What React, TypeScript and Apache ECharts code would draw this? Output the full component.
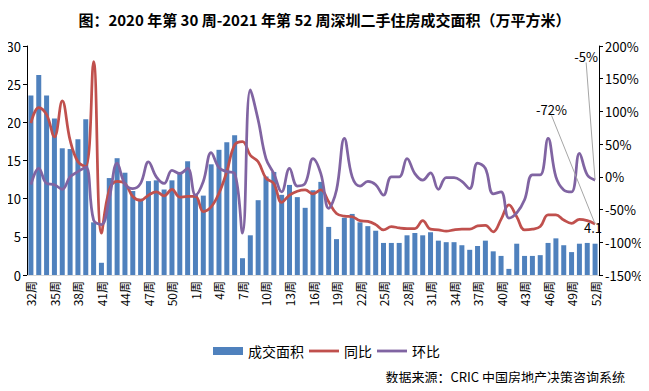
import React, { useEffect, useRef } from "react";
import * as echarts from "echarts";

const weeks2020 = [32, 33, 34, 35, 36, 37, 38, 39, 40, 41, 42, 43, 44, 45, 46, 47, 48, 49, 50, 51, 52];
const weeks2021 = Array.from({ length: 52 }, (_, k) => k + 1);
const categories = [...weeks2020, ...weeks2021].map((w) => `${w}周`);

const area = [
  23.5, 26.2, 23.5, 20.5, 16.6, 16.5, 17.8, 20.4, 6.9, 1.6,
  12.7, 15.3, 13.4, 11.0, 10.0, 12.3, 12.4, 11.2, 12.4, 13.5,
  14.9, 10.5, 10.4, 14.5, 16.4, 17.4, 18.3, 2.2, 5.2, 9.8,
  12.9, 13.5, 10.5, 11.8, 10.2, 8.8, 11.1, 12.2, 6.3, 4.7,
  7.5, 8.0, 6.9, 6.4, 5.8, 4.2, 4.2, 4.2, 5.2, 5.5,
  5.2, 5.6, 4.5, 4.3, 4.3, 3.9, 3.3, 3.8, 4.5, 3.1,
  2.5, 0.8, 4.1, 2.5, 2.5, 2.6, 4.2, 4.8, 3.9, 3.0,
  4.1, 4.2, 4.1,
];

const yoy = [
  82, 106, 95, 61, 116, 56, 23, 16, 176, -86,
  -20, -7, -10, -30, -36, -28, -23, -29, -19, -31,
  -30, -30, -53, -46, -25, 8, 49, 54, 33, 23,
  -2, -10, -39, -28, -22, -20, -26, -20, -38, -56,
  -60, -61, -67, -68, -73, -81, -76, -78, -79, -79,
  -67, -80, -81, -83, -81, -80, -80, -75, -74, -84,
  -65, -43, -61, -81, -80, -76, -58, -58, -66, -71,
  -65, -67, -72,
];

const mom = [
  -12, 13, -10, -12, -19, 0, 8, 15, -66, -73,
  -33, 21, -11, -18, -10, 23, 0, -10, 10, 5,
  13, -28, -7, 37, 14, 8, 5, -86, 133, 87,
  28, 5, -23, 13, -14, -10, 28, 5, -48, -20,
  59, 0, -14, -7, -12, -28, 0, 0, 28, 5,
  -5, 6, -19, -1, -1, -7, -18, 21, 13, -26,
  -23, -63, -55, -35, 3, 3, 59, 0, -20, -23,
  36, 3, -5,
];

const title = "图：2020 年第 30 周-2021 年第 52 周深圳二手住房成交面积（万平方米）";
const source = "数据来源：CRIC 中国房地产决策咨询系统";

const FONT = "'Noto Sans CJK SC', 'Noto Sans', sans-serif";
const LINE_ICON = "path://M0,0L32,0L32,3L0,3Z";

export default function App() {
  const ref = useRef<HTMLDivElement>(null);
  useEffect(() => {
    if (!ref.current) return;
    const chart = echarts.init(ref.current, null, { renderer: "svg" });
    const last = categories.length - 1;
    const labelSeries = (name: string, v: number, lx: number, ly: number) => ({
      name,
      type: "scatter",
      yAxisIndex: 1,
      symbol: "circle",
      symbolSize: 1,
      itemStyle: { color: "rgba(0,0,0,0)" },
      silent: true,
      z: 5,
      data: [[categories[last], v]],
      label: {
        show: true,
        formatter: `${v}%`,
        fontSize: 13,
        color: "#000",
        opacity: 1,
        textBorderWidth: 0,
      },
      labelLine: { show: true, lineStyle: { color: "#a6a6a6", width: 1 } },
      labelLayout: { x: lx, y: ly, align: "right", verticalAlign: "middle" },
    });
    chart.setOption({
      animation: false,
      textStyle: { fontFamily: FONT },
      title: {
        text: title,
        left: "center",
        top: 7,
        textStyle: { fontSize: 15, fontWeight: "bold", color: "#000", fontFamily: FONT },
      },
      legend: {
        left: 208,
        top: 339,
        itemWidth: 30,
        itemHeight: 8,
        itemGap: 5,
        textStyle: { fontSize: 14, color: "#000" },
        data: [
          { name: "成交面积", icon: "rect" },
          { name: "同比", icon: LINE_ICON },
          { name: "环比", icon: LINE_ICON },
        ],
      },
      graphic: [
        {
          type: "text",
          right: 24,
          top: 370,
          style: { text: source, fontSize: 13, fill: "#000", fontFamily: FONT },
        },
      ],
      grid: { left: 27, right: 50, top: 46, bottom: 116 },
      xAxis: {
        type: "category",
        data: categories,
        boundaryGap: true,
        axisLine: { lineStyle: { color: "#d9d9d9" } },
        axisTick: { show: false },
        axisLabel: {
          interval: 2,
          rotate: 90,
          fontSize: 12,
          color: "#000",
          margin: 6,
        },
      },
      yAxis: [
        {
          type: "value",
          min: 0,
          max: 30,
          interval: 5,
          splitLine: { show: false },
          axisLine: { show: true, lineStyle: { color: "#000" } },
          axisTick: { show: true, inside: false, length: 4, lineStyle: { color: "#000" } },
          axisLabel: { fontSize: 13, color: "#000", margin: 6 },
        },
        {
          type: "value",
          min: -150,
          max: 200,
          interval: 50,
          position: "right",
          splitLine: { show: false },
          axisLine: { show: true, lineStyle: { color: "#000" } },
          axisTick: { show: true, length: 4, lineStyle: { color: "#000" } },
          axisLabel: { fontSize: 13, color: "#000", margin: 6, formatter: "{value}%" },
        },
      ],
      series: [
        {
          name: "成交面积",
          type: "bar",
          yAxisIndex: 0,
          barWidth: 5,
          itemStyle: { color: "#4f81bd" },
          data: area.map((v, i) =>
            i === last
              ? { value: v, label: { show: true, position: "top", formatter: "{c}", fontSize: 13, color: "#000" } }
              : v
          ),
          labelLayout: (p: any) =>
            p.dataIndex === last ? { x: 593, y: 227, align: "center", verticalAlign: "middle" } : {},
        },
        {
          name: "同比",
          type: "line",
          yAxisIndex: 1,
          smooth: 0.4,
          symbol: "none",
          lineStyle: { color: "#c0504d", width: 2.75 },
          itemStyle: { color: "#c0504d" },
          data: yoy,
        },
        {
          name: "环比",
          type: "line",
          yAxisIndex: 1,
          smooth: 0.4,
          symbol: "none",
          lineStyle: { color: "#8064a2", width: 2.75 },
          itemStyle: { color: "#8064a2" },
          data: mom,
        },
        labelSeries("同比标签", yoy[last], 567, 109),
        labelSeries("环比标签", mom[last], 598, 56),
      ],
    });
    return () => chart.dispose();
  }, []);
  return <div ref={ref} style={{ width: 649, height: 391, margin: -8 }} />;
}
